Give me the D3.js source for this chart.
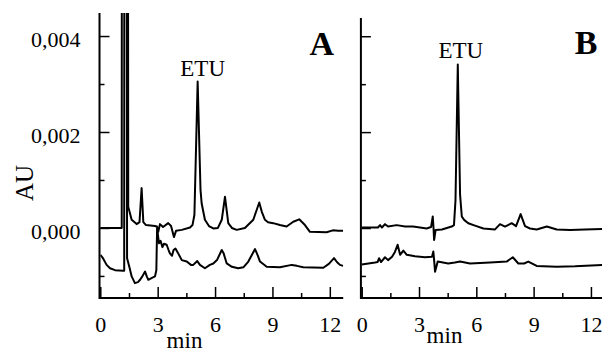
<!DOCTYPE html>
<html>
<head>
<meta charset="utf-8">
<script src="https://cdn.jsdelivr.net/npm/d3@7"></script>
</head>
<body style="margin:0">
<svg id="chart" width="602" height="352"></svg>
<script>
// chromatogram A (sample), upper trace: time (min) / absorbance (AU); the solvent front is off scale
const timeAUpper = [0, 1.06, 1.12, 1.15, 1.40, 1.46, 1.64, 1.90, 2.05, 2.16, 2.25, 2.39, 2.86, 2.96, 3.03, 3.12, 3.28, 3.55, 3.70, 3.85, 3.96, 4.26, 4.69, 4.82, 4.92, 5.09, 5.24, 5.30, 5.47, 5.68, 5.91, 6.15, 6.35, 6.52, 6.69, 6.88, 7.13, 7.56, 8.00, 8.31, 8.45, 8.61, 8.77, 9.04, 9.39, 9.74, 10.09, 10.40, 10.70, 10.96, 11.83, 12.16, 12.44, 12.70];
const auAUpper = [0, 0, 0, 0.03, 0.03, 0.00044, 0.00017, 0.00008, 0.00012, 0.00083, 0.00012, 0.00006, 0.00004, 0.00003, -0.00008, 0.00008, 0.00002, 0.0001, 0.00004, -0.00019, -0.00006, -0.00004, 0.00001, 0.00006, 0.00027, 0.00305, 0.00079, 0.00051, 0.00017, 0.00004, -0.00001, 0, 0.00017, 0.00065, 0.0001, 0, -0.00004, 0, 0.00017, 0.00053, 0.00033, 0.00017, 0.00012, 0.0001, 0.00006, 0.00003, 0.00013, 0.00018, 0.00006, -0.00008, -0.00009, -0.00005, -0.00006, -0.00006];

// chromatogram A, lower trace (blank)
const timeALower = [0, 0.14, 0.33, 0.51, 0.77, 1.20, 1.25, 1.27, 1.33, 1.40, 1.53, 1.64, 1.81, 1.97, 2.08, 2.18, 2.34, 2.44, 2.51, 2.70, 2.86, 2.93, 2.97, 3.02, 3.07, 3.15, 3.25, 3.33, 3.47, 3.57, 3.64, 3.75, 3.83, 3.93, 4.06, 4.26, 4.52, 4.74, 4.86, 5.07, 5.21, 5.47, 5.73, 5.91, 6.10, 6.35, 6.44, 6.61, 6.88, 7.21, 7.48, 7.74, 7.93, 8.09, 8.22, 8.35, 8.70, 9.39, 10.01, 10.28, 10.61, 11.66, 11.95, 12.22, 12.37, 12.53, 12.70];
const auALower = [-0.00056, -0.00063, -0.00077, -0.00084, -0.00088, -0.00089, -0.00089, 0.03, 0.03, -0.00063, -0.00083, -0.00101, -0.00115, -0.00113, -0.00108, -0.00102, -0.00091, -0.00102, -0.00108, -0.00104, -0.00101, -0.00088, -0.00001, -0.00017, -0.00032, -0.00027, -0.0004, -0.00033, -0.00035, -0.00046, -0.00053, -0.00058, -0.00046, -0.00043, -0.00052, -0.00067, -0.0007, -0.00077, -0.00077, -0.00069, -0.00077, -0.00084, -0.00077, -0.00074, -0.00067, -0.00046, -0.00052, -0.00074, -0.00081, -0.00084, -0.00082, -0.0007, -0.00056, -0.00044, -0.00056, -0.0007, -0.00081, -0.00082, -0.00077, -0.00079, -0.00082, -0.00083, -0.00075, -0.00063, -0.00071, -0.00077, -0.00079];

// chromatogram B, upper trace
const timeBUpper = [0, 0.85, 0.96, 1.06, 1.22, 1.38, 1.83, 2.27, 2.69, 3.40, 3.63, 3.72, 3.76, 3.79, 3.87, 4.20, 4.71, 4.83, 4.91, 5.03, 5.15, 5.24, 5.36, 5.58, 5.93, 6.37, 6.98, 7.24, 7.50, 7.85, 8.08, 8.32, 8.55, 8.81, 9.16, 9.69, 10.21, 10.91, 11.69, 12.60];
const auBUpper = [0.00001, 0.00001, 0.00006, 0.00001, 0.00008, 0.00003, 0.00006, 0.00003, 0.00003, -0.00001, 0.00002, 0.00024, 0, -0.00025, -0.00004, -0.00003, 0.00003, 0.00006, 0.00058, 0.00341, 0.00069, 0.00024, 0.00017, 0.0001, 0.00005, -0.00001, -0.00003, 0.00008, 0.00003, 0.0001, 0.00004, 0.00029, 0.00004, -0.00001, -0.00003, 0.00003, -0.00003, -0.00004, -0.00003, -0.00002];

// chromatogram B, lower trace
const timeBLower = [0, 0.70, 0.83, 0.91, 1.01, 1.22, 1.38, 1.59, 1.74, 1.88, 2.01, 2.18, 2.36, 2.79, 3.31, 3.68, 3.75, 3.80, 3.84, 3.98, 4.53, 4.88, 5.15, 5.67, 6.72, 7.59, 7.91, 8.20, 8.50, 8.72, 9.16, 10.21, 11.17, 12.60];
const auBLower = [-0.00076, -0.00072, -0.00071, -0.00063, -0.00071, -0.00061, -0.00067, -0.0006, -0.0005, -0.00035, -0.00056, -0.00047, -0.00056, -0.00059, -0.00061, -0.0006, -0.00049, -0.00071, -0.00091, -0.0007, -0.00074, -0.00072, -0.0007, -0.00074, -0.00072, -0.0007, -0.00061, -0.00074, -0.00074, -0.0007, -0.00079, -0.00081, -0.0008, -0.00077];

// axis ticks
const xMajorTicks = [0, 3, 6, 9, 12];
const xMinorTicks = [1.5, 4.5, 7.5, 10.5];
const yMajorTicks = [0, 0.002, 0.004];
const yMinorTicks = [-0.001, 0.001, 0.003];
const yTickLabels = ["0,000", "0,002", "0,004"];

const svg = d3.select("#chart");
const fontSize = 22;

const toPoints = (ts, vs) => ts.map((t, i) => [t, vs[i]]);

function panel(opts) {
    const x = d3.scaleLinear().domain([0, opts.tMax]).range([opts.left, opts.right]);
    const y = d3.scaleLinear().domain([-0.00146, opts.vTop]).range([298, opts.top]);
    const g = svg.append("g");

    const clipId = "clip-" + opts.name;
    svg.append("clipPath").attr("id", clipId)
        .append("rect")
        .attr("x", opts.left).attr("y", opts.top)
        .attr("width", opts.right - opts.left).attr("height", 298 - opts.top);

    const line = d3.line()
        .x(d => x(d[0]))
        .y(d => y(d[1]));

    g.selectAll("path.trace")
        .data(opts.traces)
        .enter()
        .append("path")
        .attr("class", "trace")
        .attr("clip-path", "url(#" + clipId + ")")
        .attr("d", d => line(d))
        .attr("fill", "none")
        .attr("stroke", "#000")
        .attr("stroke-width", 2)
        .attr("stroke-linejoin", "round");

    // x axis: ticks point up into the plot
    const ax = opts.left - 0.8;
    g.append("g")
        .attr("transform", "translate(0,298)")
        .call(d3.axisBottom(x).tickValues(xMajorTicks).tickSizeInner(-11).tickSizeOuter(0).tickFormat(""))
        .call(a => a.select(".domain").attr("stroke-width", 2).attr("d", "M" + ax + ",0H" + opts.right));
    g.append("g")
        .attr("transform", "translate(0,298)")
        .call(d3.axisBottom(x).tickValues(xMinorTicks).tickSizeInner(-5).tickSizeOuter(0).tickFormat(""))
        .call(a => a.select(".domain").remove());
    g.append("g")
        .attr("transform", "translate(0,298)")
        .call(d3.axisBottom(x).tickValues(xMajorTicks).tickSize(0).tickPadding(18).tickFormat(d3.format("d")))
        .call(a => a.select(".domain").remove())
        .selectAll("text")
        .attr("font-size", fontSize)
        .attr("fill", "#000");

    // y axis: ticks point right into the plot
    g.append("g")
        .attr("transform", "translate(" + ax + ",0)")
        .call(d3.axisRight(y).tickValues(yMajorTicks).tickSizeInner(10).tickSizeOuter(0).tickFormat(""))
        .call(a => a.select(".domain").attr("stroke-width", 2).attr("d", "M0," + opts.top + "V299"));
    g.append("g")
        .attr("transform", "translate(" + ax + ",0)")
        .call(d3.axisRight(y).tickValues(yMinorTicks).tickSizeInner(5).tickSizeOuter(0).tickFormat(""))
        .call(a => a.select(".domain").remove());
    g.selectAll(".tick line").attr("stroke-width", 1.5);

    if (opts.yLabels) {
        g.append("g")
            .attr("transform", "translate(" + ax + ",0)")
            .call(d3.axisLeft(y).tickValues(yMajorTicks).tickSize(0).tickPadding(19)
                .tickFormat((d, i) => yTickLabels[i]))
            .call(a => a.select(".domain").remove())
            .selectAll("text")
            .attr("font-size", fontSize)
            .attr("dy", "0.48em")
            .attr("fill", "#000");
    }

    g.append("text")
        .attr("x", x(opts.peakT) + opts.etuDx)
        .attr("y", opts.etuY)
        .attr("text-anchor", "middle")
        .attr("font-size", 23)
        .text("ETU");

    g.append("text")
        .attr("x", opts.letterX)
        .attr("y", opts.letterY)
        .attr("text-anchor", "middle")
        .attr("font-size", 34)
        .attr("font-weight", "bold")
        .text(opts.name);

    g.append("text")
        .attr("x", opts.minX)
        .attr("y", opts.minY)
        .attr("text-anchor", "middle")
        .attr("font-size", 23)
        .text("min");
}

panel({
    name: "A", left: 100.3, right: 343.2, top: 13, tMax: 12.7, vTop: 0.00448,
    traces: [toPoints(timeAUpper, auAUpper), toPoints(timeALower, auALower)],
    yLabels: true, peakT: 5.09, etuDx: 5, etuY: 76,
    letterX: 321.7, letterY: 55, minX: 184.5, minY: 348
});

panel({
    name: "B", left: 361.7, right: 602.4, top: 18, tMax: 12.6, vTop: 0.00438,
    traces: [toPoints(timeBUpper, auBUpper), toPoints(timeBLower, auBLower)],
    yLabels: false, peakT: 5.03, etuDx: 3, etuY: 58,
    letterX: 586, letterY: 53.5, minX: 444.5, minY: 343
});

svg.append("text")
    .attr("transform", "translate(33,183) rotate(-90)")
    .attr("text-anchor", "middle")
    .attr("font-size", 25)
    .text("AU");

// one serif face for every label
svg.selectAll("g").attr("font-family", null);
svg.selectAll("text").attr("font-family", "Liberation Serif");
</script>
</body>
</html>
